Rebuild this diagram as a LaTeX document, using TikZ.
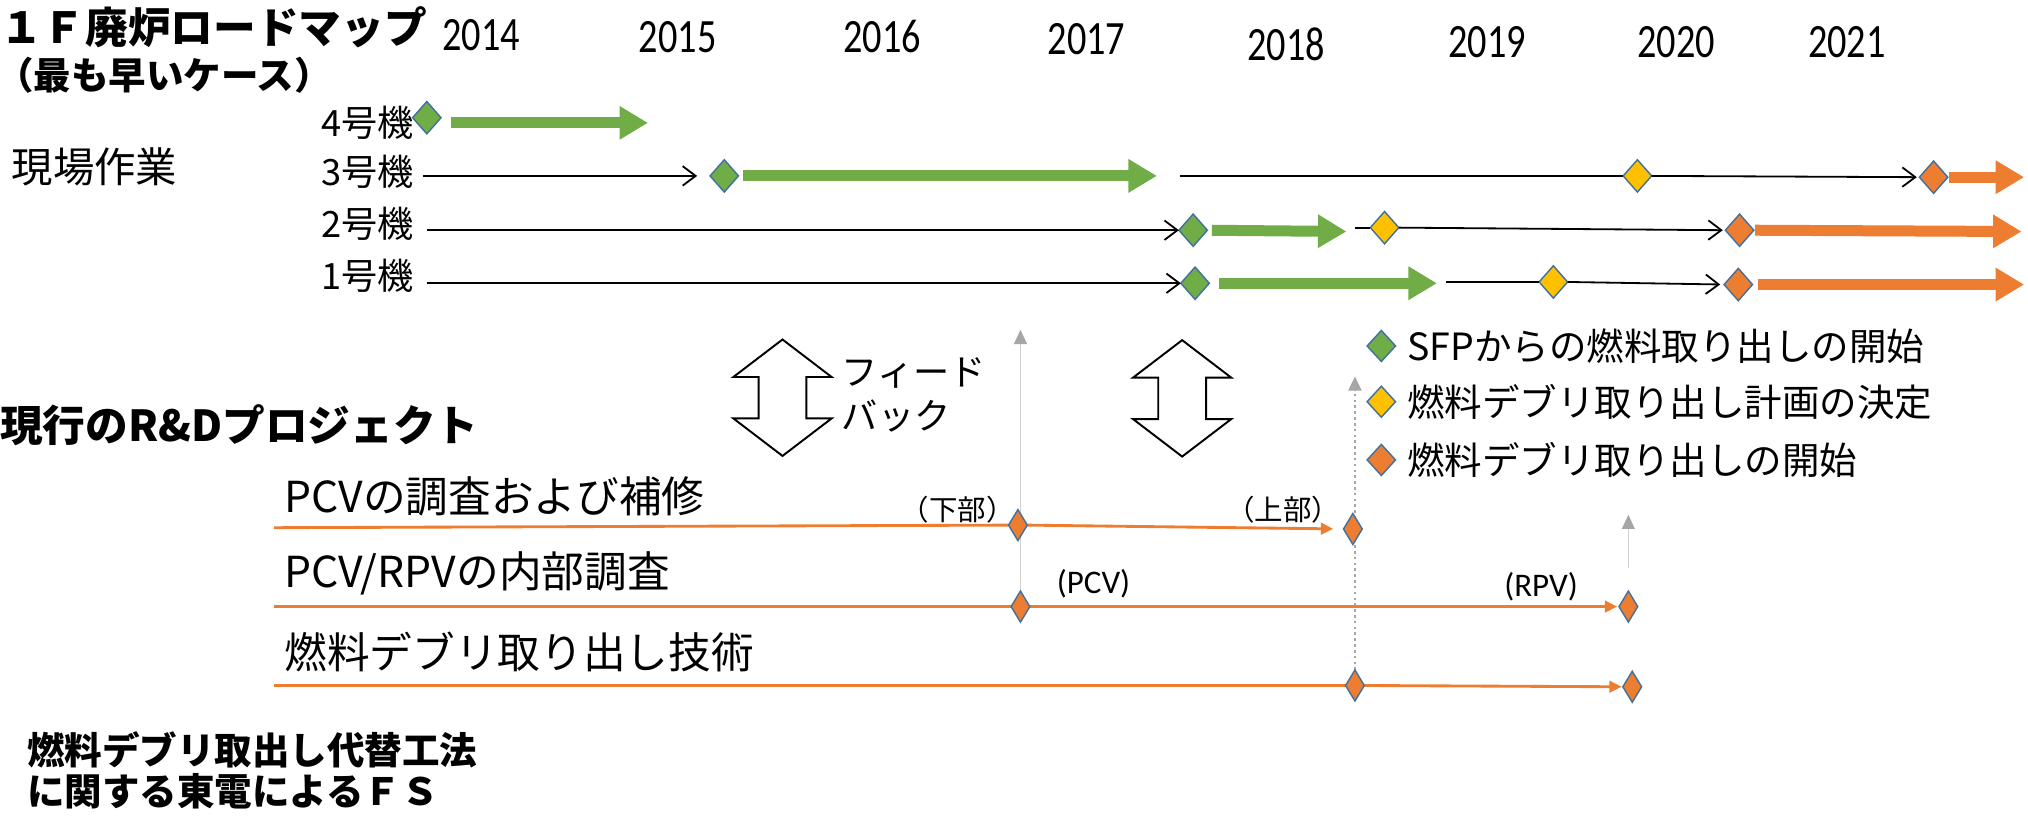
\documentclass[tikz,border=0pt]{standalone}
\usepackage{graphicx}
\usepackage{fontspec}
\setmainfont{Noto Sans CJK JP}
\newfontfamily\calfont{Carlito}
\usetikzlibrary{shapes.geometric,arrows.meta}
\pgfdeclarelayer{bg}
\pgfsetlayers{bg,main}
\definecolor{dgreen}{HTML}{70AD47}
\definecolor{dyellow}{HTML}{FFC000}
\definecolor{dorange}{HTML}{ED7D31}
\definecolor{dblue}{HTML}{41719C}
\definecolor{lgray}{HTML}{D0D0D0}
\definecolor{mgray}{HTML}{A6A6A6}
\newcommand\fsz[1]{\fontsize{#1}{#1}\selectfont}
\newcommand\yr[1]{\scalebox{0.8}[1]{#1}}
\begin{document}
\begin{tikzpicture}[x=1pt,y=-1pt,
  every node/.style={inner sep=0pt,outer sep=0pt},
  bigdia/.style={diamond,draw=dblue,line width=1.1pt,minimum width=22pt,minimum height=25pt},
  gdia/.style={bigdia,fill=dgreen},
  ydia/.style={bigdia,fill=dyellow},
  odia/.style={bigdia,fill=dorange},
  legdia/.style={diamond,draw=dblue,line width=1.1pt,minimum width=22pt,minimum height=24pt},
  smalldia/.style={diamond,draw=dblue,line width=1.1pt,fill=dorange,minimum width=14.5pt,minimum height=24pt},
  unitlbl/.style={anchor=east,font=\fsz{28}},
  yearlbl/.style={font=\calfont\fsz{37}},
  leglbl/.style={anchor=west,font=\fsz{29}},
  rdlbl/.style={anchor=west,font=\fsz{33}},
  smalllbl/.style={font=\fsz{22}},
  paren/.style={font=\calfont\fsz{25.5}},
  thinline/.style={draw=black,line width=1.4pt},
  thinarr/.style={thinline,-{Straight Barb[length=10pt,width=15pt]}},
  fatg/.style={draw=dgreen,line width=8.5pt,-{Triangle[length=22pt,width=24.5pt]}},
  fato/.style={draw=dorange,line width=8.5pt,-{Triangle[length=22pt,width=24.5pt]}},
  rdline/.style={draw=dorange,line width=2.2pt},
  rdarr/.style={rdline,-{Triangle[length=9.5pt,width=9pt]}},
  grayarr/.style={draw=lgray,line width=1pt,-{Triangle[length=11pt,width=10pt,color=mgray]}},
  graydot/.style={draw=mgray,line width=2pt,dash pattern=on 2pt off 2.5pt,-{Triangle[length=11pt,width=10pt,color=mgray]}},
  fbarrow/.style={draw=black,fill=white,line width=1.5pt,line join=miter}
]
\useasboundingbox (0,0) rectangle (1568,632);
\begin{pgfonlayer}{bg}
\fill[white] (0,0) rectangle (1568,632);
\end{pgfonlayer}

% titles
\node[anchor=west,font=\fsz{33}\bfseries] (title) at (0,21) {１Ｆ廃炉ロードマップ};
\node[anchor=west,font=\fsz{29}\bfseries] (subtitle) at (-3,58.5) {（最も早いケース）};
\node[anchor=west,font=\fsz{32}] (genba) at (9,129) {現場作業};
\node[anchor=west,font=\fsz{33}\bfseries] (rd) at (0,329) {現行のR\&Dプロジェクト};
\node[anchor=west,font=\fsz{29}\bfseries] (fs1) at (21,580) {燃料デブリ取出し代替工法};
\node[anchor=west,font=\fsz{29}\bfseries] (fs2) at (21,612) {に関する東電によるＦＳ};

% years
\node[yearlbl] (y14) at (372,27) {\yr{2014}};
\node[yearlbl] (y15) at (524,28.5) {\yr{2015}};
\node[yearlbl] (y16) at (682,28) {\yr{2016}};
\node[yearlbl] (y17) at (840,30) {\yr{2017}};
\node[yearlbl] (y18) at (994.5,34) {\yr{2018}};
\node[yearlbl] (y19) at (1150,32.5) {\yr{2019}};
\node[yearlbl] (y20) at (1296,32.5) {\yr{2020}};
\node[yearlbl] (y21) at (1428,32.5) {\yr{2021}};

% unit labels
\node[unitlbl] (l4) at (320,95) {4号機};
\node[unitlbl] (l3) at (320,133) {3号機};
\node[unitlbl] (l2) at (320,173) {2号機};
\node[unitlbl] (l1) at (320,213) {1号機};

% diamonds on unit rows
\node[gdia] (d4) at (330,91) {};
\node[gdia] (d3g) at (560,136) {};
\node[ydia] (y3) at (1266,136) {};
\node[odia] (o3) at (1495,137) {};
\node[gdia] (d2g) at (922.5,178) {};
\node[ydia] (y2) at (1070.5,176) {};
\node[odia] (o2) at (1345,178) {};
\node[gdia] (d1g) at (924,219) {};
\node[ydia] (y1) at (1201,218) {};
\node[odia] (o1) at (1344,220) {};

\coordinate (t4) at (501,95);
\coordinate (t3g) at (894.5,136);
\coordinate (s3) at (912.5,136);
\coordinate (t3o) at (1565,137);
\coordinate (t2g) at (1041,179);
\coordinate (s2) at (1048,176);
\coordinate (t2o) at (1563,179);
\coordinate (t1g) at (1111,219);
\coordinate (s1) at (1118,218);
\coordinate (t1o) at (1565,220);

% row 4
\draw[fatg,shorten <=7.5pt] (d4.east |- t4) -- (t4);
% row 3
\draw[thinarr,shorten <=7pt,shorten >=10pt] (l3.east |- d3g) -- (d3g.west);
\draw[fatg,shorten <=3.5pt] (d3g.east) -- (t3g);
\draw[thinline] (s3) -- (y3.west);
\draw[thinarr,shorten >=2pt] (y3.east) -- (o3.west);
\draw[fato,shorten <=1pt] (o3.east) -- (t3o);
% row 2
\draw[thinarr,shorten <=10pt] (l2.east |- d2g) -- (d2g.west);
\draw[fatg,shorten <=3.5pt] (d2g.east) -- (t2g);
\draw[thinline] (s2) -- (y2.west);
\draw[thinarr,shorten >=2pt] (y2.east) -- (o2.west);
\draw[fato,shorten <=1pt] (o2.east) -- (t2o);
% row 1
\draw[thinarr,shorten <=10pt] (l1.east |- d1g) -- (d1g.west);
\draw[fatg,shorten <=7.5pt] (d1g.east) -- (t1g);
\draw[thinline] (s1) -- (y1.west);
\draw[thinarr,shorten >=3pt] (y1.east) -- (o1.west);
\draw[fato,shorten <=4pt] (o1.east) -- (t1o);

% legend
\node[legdia,fill=dgreen] (lg1) at (1068,267.5) {};
\node[legdia,fill=dyellow] (lg2) at (1068,310.6) {};
\node[legdia,fill=dorange] (lg3) at (1068,355.6) {};
\node[leglbl] (lt1) at (1088,267.5) {SFPからの燃料取り出しの開始};
\node[leglbl] (lt2) at (1088,310.6) {燃料デブリ取り出し計画の決定};
\node[leglbl] (lt3) at (1088,355.6) {燃料デブリ取り出しの開始};

% feedback arrows
\begin{scope}[shift={(605,307.5)}]
\draw[fbarrow] (0,-45) -- (38,-16) -- (18.5,-16) -- (18.5,16) -- (38,16) -- (0,45) -- (-38,16) -- (-18.5,16) -- (-18.5,-16) -- (-38,-16) -- cycle;
\end{scope}
\begin{scope}[shift={(914,308)}]
\draw[fbarrow] (0,-45) -- (38,-16) -- (18.5,-16) -- (18.5,16) -- (38,16) -- (0,45) -- (-38,16) -- (-18.5,16) -- (-18.5,-16) -- (-38,-16) -- cycle;
\end{scope}
\node[anchor=west,font=\fsz{28}] (fb1) at (651,288) {フィード};
\node[anchor=west,font=\fsz{28}] (fb2) at (651,322) {バック};

% R&D rows
\node[rdlbl] (r1) at (220,384) {PCVの調査および補修};
\node[rdlbl] (r2) at (220,443) {PCV/RPVの内部調査};
\node[rdlbl] (r3) at (220,504) {燃料デブリ取り出し技術};

\coordinate (rs1) at (212,408);
\coordinate (rs2) at (212,469);
\coordinate (rs3) at (212,530);

\node[smalldia] (dl) at (787,406) {};
\node[smalldia] (du) at (1046,409) {};
\node[smalldia] (dp) at (789,469) {};
\node[smalldia] (dr) at (1259,469) {};
\node[smalldia] (df1) at (1047.6,530) {};
\node[smalldia] (df2) at (1262,531) {};

\node[smalllbl] (lower) at (740.5,394) {（下部）};
\node[smalllbl] (upper) at (992,394) {（上部）};
\node[paren] (pcv) at (845.5,451.5) {(PCV)};
\node[paren] (rpv) at (1191.5,454) {(RPV)};

\coordinate (g1top) at (789,255);
\coordinate (g2top) at (1047.6,291);
\coordinate (g3bot) at (1259,439);
\coordinate (g3top) at (1259,398);

\begin{pgfonlayer}{bg}
\draw[rdline] (rs1) -- (dl.west);
\draw[rdarr,shorten >=8pt] (dl.east) -- (du.west);
\draw[rdline] (rs2) -- (dp.west);
\draw[rdarr,shorten >=1.5pt] (dp.east) -- (dr.west);
\draw[rdline] (rs3) -- (df1.west);
\draw[rdarr,shorten >=1pt] (df1.east) -- (df2.west);
\draw[grayarr] (dp.north) -- (g1top);
\draw[graydot] (df1.north) -- (g2top);
\draw[grayarr] (g3bot) -- (g3top);
\end{pgfonlayer}
\end{tikzpicture}
\end{document}
